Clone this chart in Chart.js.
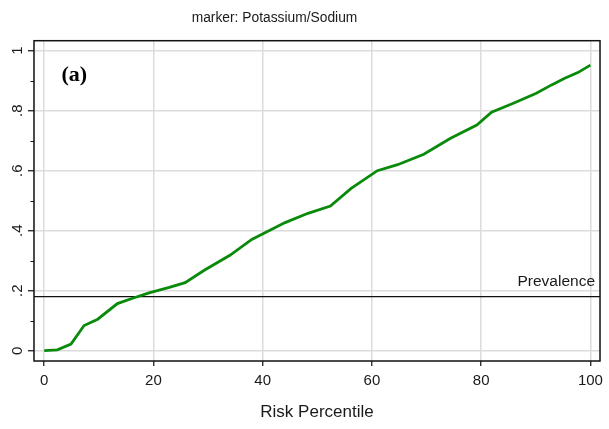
<!DOCTYPE html>
<html>
<head>
<meta charset="utf-8">
<script src="https://cdn.jsdelivr.net/npm/chart.js@4/dist/chart.umd.min.js"></script>
<style>
  html, body { margin: 0; padding: 0; background: #ffffff; }
  #wrap { width: 609px; height: 429px; position: relative; }
</style>
</head>
<body>
<div id="wrap"><canvas id="chart" width="609" height="429"></canvas></div>
<script>
// Cumulative share of cases captured, by risk percentile
const riskPercentile = [0, 2.4, 4.9, 7.3, 9.8, 13.4, 16.2, 19.2, 22.9, 25.8, 29.3, 34.0, 38.0, 44.1, 48.3, 52.4, 56.2, 61.0, 64.7, 69.5, 74.4, 79.2, 81.9, 85.9, 90.1, 92.9, 95.3, 97.7, 100];
const capturedShare  = [0, 0.003, 0.022, 0.084, 0.105, 0.157, 0.175, 0.193, 0.211, 0.227, 0.268, 0.318, 0.371, 0.427, 0.458, 0.482, 0.541, 0.600, 0.620, 0.655, 0.708, 0.752, 0.795, 0.825, 0.858, 0.886, 0.908, 0.927, 0.952];

const xTicks = [0, 20, 40, 60, 80, 100];
const yTicks = [0, 0.2, 0.4, 0.6, 0.8, 1];
const yTickLabels = ['0', '.2', '.4', '.6', '.8', '1'];
const yMinorTicks = [0.1, 0.3, 0.5, 0.7, 0.9];
const prevalence = 0.18;

const chartTitle = 'marker: Potassium/Sodium';
const panelLabel = '(a)';
const xAxisTitle = 'Risk Percentile';
const prevalenceLabel = 'Prevalence';

const SANS = '"Liberation Sans", Arial, Helvetica, sans-serif';
const TEXT = '#1a1a1a';

const points = riskPercentile.map((x, i) => ({ x: x, y: capturedShare[i] }));

// Stata-style frame, reference line, rotated y labels and captions
const decorations = {
  id: 'decorations',
  beforeDatasetsDraw(chart) {
    const { ctx, chartArea: a, scales: { y } } = chart;
    const py = y.getPixelForValue(prevalence);
    ctx.save();
    ctx.strokeStyle = '#111';
    ctx.lineWidth = 1.3;
    ctx.beginPath();
    ctx.moveTo(a.left, py);
    ctx.lineTo(a.right, py);
    ctx.stroke();
    ctx.restore();
  },
  afterDraw(chart) {
    const { ctx, chartArea: a, scales: { y } } = chart;
    ctx.save();
    // plot frame
    ctx.strokeStyle = '#111';
    ctx.lineWidth = 1.5;
    ctx.strokeRect(a.left, a.top, a.right - a.left, a.bottom - a.top);

    // minor y ticks
    ctx.lineWidth = 1;
    ctx.strokeStyle = '#111';
    yMinorTicks.forEach(v => {
      const p = Math.round(y.getPixelForValue(v)) + 0.5;
      ctx.beginPath();
      ctx.moveTo(a.left - 3.5, p);
      ctx.lineTo(a.left, p);
      ctx.stroke();
    });

    // rotated y tick labels
    ctx.fillStyle = TEXT;
    ctx.font = '15px ' + SANS;
    ctx.textAlign = 'center';
    ctx.textBaseline = 'alphabetic';
    yTicks.forEach((v, i) => {
      const p = y.getPixelForValue(v);
      ctx.save();
      ctx.translate(22, p);
      ctx.rotate(-Math.PI / 2);
      ctx.fillText(yTickLabels[i], 0, 0);
      ctx.restore();
    });

    // title
    ctx.font = '13.8px ' + SANS;
    ctx.textAlign = 'center';
    ctx.textBaseline = 'middle';
    ctx.fillText(chartTitle, 274.5, 18);

    // x axis title
    ctx.font = '17px ' + SANS;
    ctx.fillText(xAxisTitle, (a.left + a.right) / 2, 412);

    // reference line label
    ctx.font = '15.5px ' + SANS;
    ctx.textAlign = 'right';
    ctx.textBaseline = 'alphabetic';
    ctx.fillText(prevalenceLabel, 595, y.getPixelForValue(prevalence) - 11);

    // panel label
    ctx.font = 'bold 22px "Liberation Serif", "Times New Roman", serif';
    ctx.textAlign = 'left';
    ctx.fillStyle = '#000';
    ctx.fillText(panelLabel, 61.5, 81);
    ctx.restore();
  }
};

new Chart(document.getElementById('chart'), {
  type: 'scatter',
  data: {
    datasets: [{
      data: points,
      showLine: true,
      borderColor: '#0a8a0a',
      backgroundColor: '#0a8a0a',
      borderWidth: 2.8,
      pointRadius: 0,
      tension: 0
    }]
  },
  options: {
    responsive: false,
    devicePixelRatio: 1,
    animation: false,
    layout: { padding: { left: 0, right: 5, top: 40.7, bottom: 0 } },
    plugins: {
      legend: { display: false },
      title: { display: false },
      tooltip: { enabled: false }
    },
    scales: {
      x: {
        type: 'linear',
        min: -1.87,
        max: 101.76,
        afterBuildTicks: s => { s.ticks = xTicks.map(v => ({ value: v })); },
        afterFit: s => { s.height = 68; },
        grid: {
          color: '#dcdcdc',
          lineWidth: 1.5,
          drawTicks: true,
          tickLength: 5,
          tickColor: '#111',
          tickWidth: 1.2
        },
        border: { display: false },
        ticks: {
          color: TEXT,
          font: { family: SANS, size: 15 },
          padding: 6,
          maxRotation: 0,
          minRotation: 0,
          callback: v => String(v)
        }
      },
      y: {
        type: 'linear',
        min: -0.0343,
        max: 1.0333,
        afterBuildTicks: s => { s.ticks = yTicks.map(v => ({ value: v })); },
        afterFit: s => { s.width = 34; },
        grid: {
          color: '#dcdcdc',
          lineWidth: 1.5,
          drawTicks: true,
          tickLength: 6,
          tickColor: '#111',
          tickWidth: 1.2
        },
        border: { display: false },
        ticks: { display: false }
      }
    }
  },
  plugins: [decorations]
});
</script>
</body>
</html>
